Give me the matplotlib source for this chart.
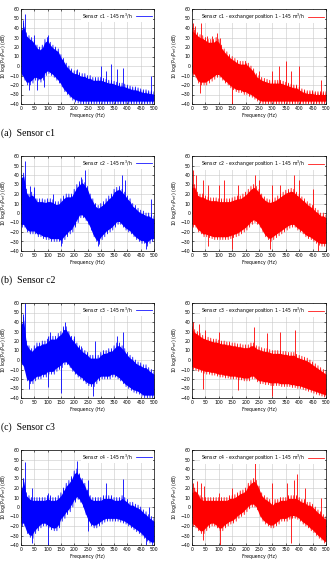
import numpy as np
import matplotlib.pyplot as plt

# envelope readings every 10 Hz (dB), upper / lower edge of the noisy band
freq = np.arange(0, 501, 10)

c1_hi = [40, 45, 35, 32, 30, 27, 22, 20, 22, 28, 30, 25, 22, 20, 18, 12, 8, 3, 0, -3,
         -5, -5, -7, -8, -8, -10, -10, -12, -12, -12, -12, -13, -14, -15, -15, -16, -17, -18, -18, -19,
         -20, -21, -22, -22, -23, -24, -25, -25, -26, -26, -27]
c1_lo = [-10, -15, -20, -20, -18, -15, -15, -17, -15, -10, -8, -10, -12, -15, -18, -22, -27, -30, -33, -36,
         -38, -39, -40, -40, -40, -40, -40, -40, -40, -40, -40, -40, -40, -40, -40, -40, -40, -40, -40, -40,
         -40, -40, -40, -40, -40, -40, -40, -40, -40, -40, -40]
c1_spk = [(8, 48), (15, 55), (50, 33), (100, 33), (210, -3), (300, 0), (320, -5), (340, 2), (360, -3),
          (385, -2), (490, -10)]
c1_dip = [(30, -25), (60, -25), (85, -22)]

c1x_hi = [40, 38, 35, 33, 32, 30, 28, 28, 28, 30, 28, 22, 18, 15, 12, 10, 8, 6, 5, 5,
          5, 3, 0, -3, -8, -10, -12, -13, -14, -15, -15, -15, -15, -15, -16, -17, -18, -19, -20, -20,
          -22, -24, -25, -26, -26, -26, -27, -27, -27, -27, -27]
c1x_lo = [-10, -12, -18, -20, -20, -20, -18, -16, -14, -12, -12, -15, -18, -20, -23, -25, -27, -28, -28, -30,
          -30, -32, -33, -35, -37, -39, -40, -40, -40, -40, -40, -40, -40, -40, -40, -40, -40, -40, -40, -40,
          -40, -40, -40, -40, -40, -40, -40, -40, -40, -40, -40]
c1x_spk = [(5, 45), (12, 42), (35, 45), (55, 32), (75, 32), (95, 35), (105, 30), (200, 3), (250, -5),
           (300, -5), (325, 0), (350, 5), (370, -5), (400, 0), (480, -15)]
c1x_dip = [(30, -28), (150, -40)]

c2_hi = [40, 42, 25, 20, 22, 20, 15, 15, 15, 14, 15, 15, 14, 12, 12, 15, 18, 20, 20, 20,
         25, 30, 33, 35, 32, 28, 20, 15, 10, 8, 10, 12, 15, 18, 20, 25, 27, 28, 25, 22,
         18, 15, 10, 8, 5, 3, 2, 0, 0, -2, -3]
c2_lo = [-15, -15, -20, -22, -22, -22, -25, -25, -27, -28, -28, -30, -30, -30, -30, -32, -28, -25, -22, -20,
         -15, -10, -5, -5, -8, -12, -18, -25, -30, -33, -28, -25, -22, -20, -18, -15, -12, -12, -15, -18,
         -20, -22, -25, -28, -30, -32, -32, -35, -32, -30, -30]
c2_spk = [(15, 55), (35, 28), (50, 27), (120, 20), (225, 38), (240, 45), (380, 40), (390, 35), (490, 15)]
c2_dip = [(150, -35), (290, -35), (470, -38)]

c2x_hi = [30, 30, 22, 20, 20, 18, 17, 16, 16, 16, 15, 15, 15, 15, 15, 16, 17, 18, 18, 20,
          22, 25, 28, 30, 28, 25, 20, 17, 15, 14, 15, 16, 18, 20, 22, 24, 25, 26, 25, 22,
          20, 17, 15, 12, 10, 8, 5, 3, 0, 0, -2]
c2x_lo = [-15, -15, -20, -22, -25, -25, -26, -27, -28, -28, -28, -28, -28, -28, -27, -26, -25, -24, -22, -20,
          -18, -15, -12, -10, -12, -15, -20, -25, -28, -30, -28, -26, -24, -22, -20, -18, -16, -15, -15, -18,
          -20, -22, -25, -27, -28, -30, -32, -34, -35, -35, -35]
c2x_spk = [(5, 45), (15, 40), (40, 35), (60, 30), (100, 30), (120, 35), (170, 30), (235, 40), (250, 35),
           (300, 30), (330, 30), (380, 40), (400, 35), (450, 25)]
c2x_dip = [(60, -35), (150, -38), (290, -38), (470, -40)]

c3_hi = [40, 45, 20, 15, 12, 15, 18, 18, 20, 20, 22, 25, 25, 25, 28, 30, 35, 35, 30, 25,
         22, 18, 15, 12, 10, 8, 5, 5, 5, 5, 8, 10, 10, 12, 12, 15, 18, 18, 15, 12,
         8, 5, 3, 0, -2, -3, -5, -5, -8, -10, -12]
c3_lo = [-5, -10, -22, -25, -25, -22, -20, -20, -18, -18, -15, -15, -15, -12, -10, -8, -5, -5, -8, -12,
         -15, -18, -20, -22, -25, -27, -28, -28, -25, -22, -20, -20, -20, -20, -18, -18, -20, -22, -25, -28,
         -30, -32, -34, -35, -36, -38, -40, -40, -40, -40, -40]
c3_spk = [(8, 48), (15, 60), (100, 25), (110, 30), (165, 40), (200, 25), (225, 15), (280, 20), (360, 25),
          (385, 30)]
c3_dip = [(30, -30), (100, -28), (150, -35), (270, -38)]

c3x_hi = [35, 32, 30, 28, 26, 25, 24, 23, 22, 22, 21, 20, 20, 19, 19, 18, 18, 17, 17, 16,
          16, 16, 18, 18, 15, 14, 13, 12, 12, 11, 10, 10, 10, 10, 9, 9, 8, 8, 8, 6,
          5, 4, 3, 2, 0, -2, -4, -6, -8, -10, -12]
c3x_lo = [-10, -11, -12, -13, -14, -15, -15, -16, -16, -17, -18, -18, -19, -19, -20, -20, -20, -21, -21, -22,
          -22, -22, -20, -20, -23, -25, -25, -26, -26, -27, -27, -27, -27, -28, -28, -28, -28, -29, -29, -30,
          -30, -31, -32, -33, -34, -35, -36, -37, -38, -39, -40]
c3x_spk = [(5, 40), (25, 38), (50, 32), (100, 30), (230, 35), (280, 28), (330, 30), (385, 32)]
c3x_dip = [(40, -30), (170, -32), (300, -38)]

c4_hi = [20, 30, 15, 12, 10, 10, 10, 10, 10, 10, 12, 10, 10, 10, 12, 15, 20, 25, 28, 32,
         38, 40, 35, 30, 25, 18, 12, 10, 10, 10, 10, 12, 12, 12, 12, 10, 10, 10, 12, 10,
         8, 5, 5, 3, 2, 0, -3, -5, -8, -10, -12]
c4_lo = [-20, -20, -28, -32, -33, -28, -25, -22, -20, -20, -22, -24, -25, -25, -22, -15, -12, -8, -5, 0,
         5, 8, 5, 0, -8, -15, -20, -22, -22, -20, -18, -16, -15, -15, -15, -15, -15, -16, -17, -18,
         -20, -22, -24, -26, -28, -30, -33, -36, -38, -40, -40]
c4_spk = [(8, 30), (15, 47), (40, 20), (100, 15), (110, 13), (210, 48), (250, 28), (320, 25), (385, 30),
          (480, 0)]
c4_dip = [(40, -38), (100, -40), (250, -25), (470, -40)]

c4x_hi = [18, 20, 18, 12, 10, 10, 10, 10, 10, 10, 10, 10, 10, 10, 12, 12, 13, 15, 17, 18,
          20, 25, 28, 30, 28, 22, 15, 12, 10, 8, 5, 8, 8, 10, 10, 10, 12, 12, 12, 12,
          10, 8, 8, 5, 5, 3, 0, -3, -5, -8, -10]
c4x_lo = [-20, -22, -25, -28, -28, -25, -22, -20, -20, -22, -25, -25, -22, -20, -18, -17, -15, -12, -10, -8,
          -5, -2, 0, 0, -3, -10, -15, -18, -20, -22, -22, -20, -18, -15, -15, -15, -13, -12, -12, -13,
          -15, -18, -20, -22, -25, -27, -30, -33, -35, -38, -40]
c4x_spk = [(5, 25), (20, 27), (35, 25), (45, 22), (100, 15), (150, 20), (235, 48), (300, 25), (355, 25),
           (380, 28), (392, 35), (420, 20), (480, 10)]
c4x_dip = [(40, -35), (105, -40), (370, -38)]

panels = [
    ("Sensor c1 - 145 m$^3$/h", c1_hi, c1_lo, c1_spk, c1_dip, "#0000ff"),
    ("Sensor c1 - exchanger position 1 - 145 m$^3$/h", c1x_hi, c1x_lo, c1x_spk, c1x_dip, "#ff0000"),
    ("Sensor c2 - 145 m$^3$/h", c2_hi, c2_lo, c2_spk, c2_dip, "#0000ff"),
    ("Sensor c2 - exchanger position 1 - 145 m$^3$/h", c2x_hi, c2x_lo, c2x_spk, c2x_dip, "#ff0000"),
    ("Sensor c3 - 145 m$^3$/h", c3_hi, c3_lo, c3_spk, c3_dip, "#0000ff"),
    ("Sensor c3 - exchanger position 1 - 145 m$^3$/h", c3x_hi, c3x_lo, c3x_spk, c3x_dip, "#ff0000"),
    ("Sensor c4 - 145 m$^3$/h", c4_hi, c4_lo, c4_spk, c4_dip, "#0000ff"),
    ("Sensor c4 - exchanger position 1 - 145 m$^3$/h", c4x_hi, c4x_lo, c4x_spk, c4x_dip, "#ff0000"),
]
captions = ["(a)  Sensor c1", "(b)  Sensor c2", "(c)  Sensor c3"]

W, H = 335, 570
fig = plt.figure(figsize=(W / 100, H / 100), dpi=100)
fs = 3.3
row_top = [9, 156, 303, 450]
col_left = [21, 192]
col_w = [133, 134]
ax_h = 95

for i, (label, hi, lo, spk, dip, color) in enumerate(panels):
    r, c = divmod(i, 2)
    ax = fig.add_axes([col_left[c] / W, 1 - (row_top[r] + ax_h) / H, col_w[c] / W, ax_h / H])
    hi = np.array(hi, float)
    lo = np.array(lo, float)
    mid = (hi + lo) / 2

    # zigzag trace between upper and lower edge, fill behind for density
    zx = np.ravel(np.column_stack([freq, freq + 5]))
    zy = np.ravel(np.column_stack([hi, lo]))
    ax.fill_between(freq, lo + 3, hi - 3, color=color, lw=0, zorder=2)
    ax.plot(zx, zy, color=color, lw=0.55, zorder=2, label=label)
    sf = [s[0] for s in spk]
    ax.vlines(sf, np.interp(sf, freq, mid), [s[1] for s in spk], color=color, lw=0.6, zorder=2)
    df = [d[0] for d in dip]
    ax.vlines(df, [d[1] for d in dip], np.interp(df, freq, mid), color=color, lw=0.6, zorder=2)

    ax.set_xlim(0, 500)
    ax.set_ylim(-40, 60)
    ax.set_xticks(np.arange(0, 501, 50))
    ax.set_yticks(np.arange(-40, 61, 10))
    ax.grid(True, color="#c8c8c8", lw=0.4, zorder=0)
    ax.set_axisbelow(True)
    ax.tick_params(direction="in", top=True, right=True, labelsize=fs, length=1.5,
                   width=0.4, pad=1.2)
    for s in ax.spines.values():
        s.set_linewidth(0.5)
    ax.set_xlabel("Frequency (Hz)", fontsize=fs, labelpad=1.5)
    ax.set_ylabel("10 log(P$_{sf}$/P$_{ref}$) (dB)", fontsize=fs)
    ax.yaxis.set_label_coords(-0.095, 0.5)
    leg = ax.legend(loc="upper right", fontsize=fs, frameon=True, fancybox=False,
                    handlelength=3.5, borderpad=0.2, handletextpad=0.6, borderaxespad=0.3,
                    markerfirst=False)
    leg.get_frame().set_edgecolor("none")
    leg.get_frame().set_alpha(1)
    leg.set_zorder(5)

for r, cap in enumerate(captions):
    fig.text(1 / W, 1 - (row_top[r] + 124) / H, cap, fontsize=7, family="Liberation Serif",
             va="center", ha="left")

fig.savefig("out.png", dpi=100)
